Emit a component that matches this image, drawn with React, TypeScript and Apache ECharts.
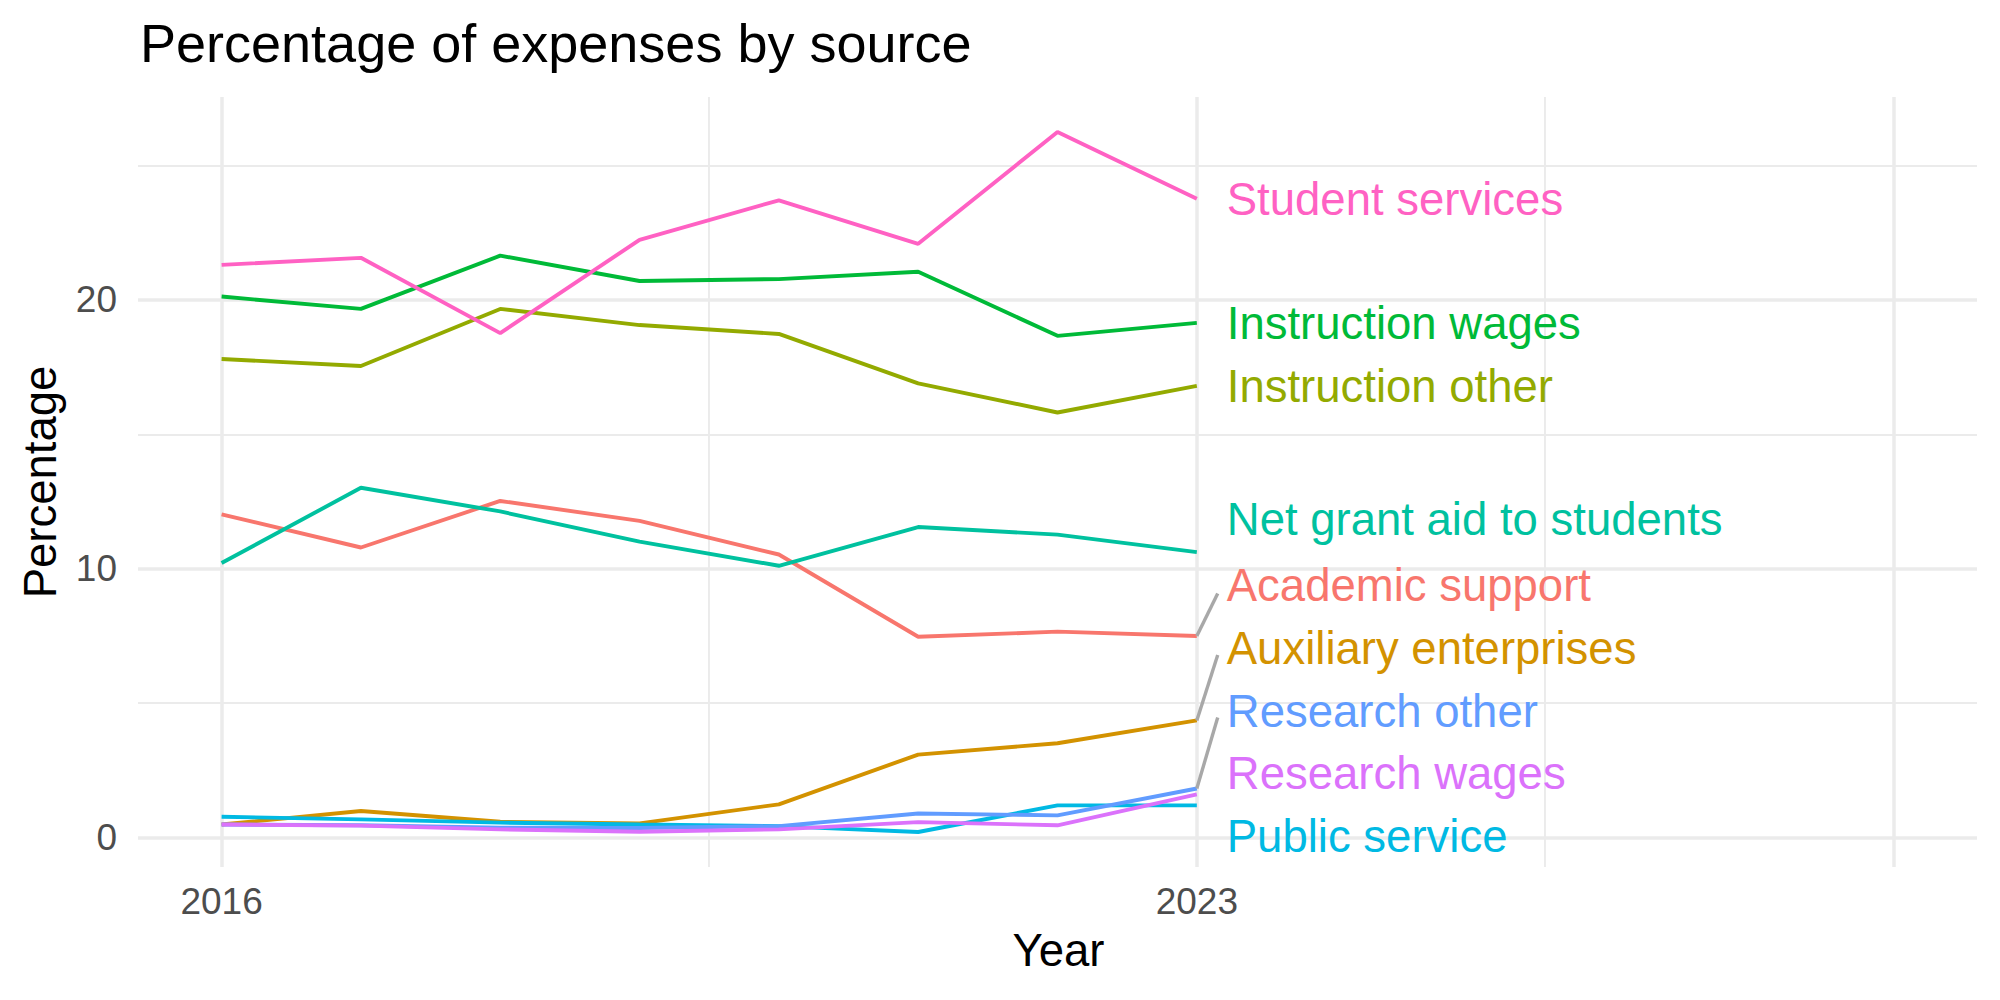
import React, { useEffect, useRef } from "react";
import * as echarts from "echarts";

const years = [2016, 2017, 2018, 2019, 2020, 2021, 2022, 2023];

const seriesNames = [
  "Academic support",
  "Auxiliary enterprises",
  "Instruction other",
  "Instruction wages",
  "Net grant aid to students",
  "Public service",
  "Research other",
  "Research wages",
  "Student services",
];

const academicSupport = [12.02, 10.79, 12.52, 11.78, 10.53, 7.47, 7.66, 7.5];
const auxiliaryEnterprises = [0.49, 0.99, 0.59, 0.53, 1.24, 3.09, 3.51, 4.36];
const instructionOther = [17.8, 17.54, 19.66, 19.06, 18.73, 16.89, 15.81, 16.8];
const instructionWages = [20.12, 19.66, 21.64, 20.7, 20.77, 21.04, 18.66, 19.14];
const netGrantAid = [10.21, 13.01, 12.13, 11.01, 10.11, 11.55, 11.27, 10.62];
const publicService = [0.78, 0.68, 0.56, 0.49, 0.43, 0.21, 1.2, 1.2];
const researchOther = [0.49, 0.46, 0.37, 0.36, 0.43, 0.9, 0.83, 1.83];
const researchWages = [0.49, 0.45, 0.31, 0.22, 0.31, 0.58, 0.46, 1.61];
const studentServices = [21.3, 21.56, 18.76, 22.23, 23.7, 22.08, 26.24, 23.76];

const seriesValues = [
  academicSupport,
  auxiliaryEnterprises,
  instructionOther,
  instructionWages,
  netGrantAid,
  publicService,
  researchOther,
  researchWages,
  studentServices,
];

// repelled label heights (data units) at the right end
const labelValues = [9.37, 7.02, 16.76, 19.12, 11.82, 0.04, 4.71, 2.37, 23.74];
// connector segment end heights (only for repelled labels)
const segmentEnds: (number | null)[] = [9.08, 6.79, null, null, null, null, 4.47, null, null];

const colors = [
  "#F8766D",
  "#D39200",
  "#93AA00",
  "#00BA38",
  "#00C19F",
  "#00B9E3",
  "#619CFF",
  "#DB72FB",
  "#FF61C3",
];

const xMajor = [2016, 2023, 2028];
const xMinor = [2019.5, 2025.5];
const yMajor = [0, 10, 20];
const yMinor = [5, 15, 25];
const xTickLabels = [2016, 2023];
const yTickLabels = [0, 10, 20];

const FONT = "'Liberation Sans', Arial, Helvetica, sans-serif";

export default function App() {
  const ref = useRef<HTMLDivElement>(null);

  useEffect(() => {
    if (!ref.current) return;
    const chart = echarts.init(ref.current, null, { renderer: "svg" });

    const lastYear = years[years.length - 1];

    const gridSeries: any = {
      type: "line",
      data: [],
      z: 0,
      silent: true,
      markLine: {
        silent: true,
        symbol: ["none", "none"],
        label: { show: false },
        animation: false,
        z: 0,
        data: [
          ...xMinor.map((v) => ({ xAxis: v, lineStyle: { color: "#EBEBEB", width: 1.9, type: "solid" } })),
          ...yMinor.map((v) => ({ yAxis: v, lineStyle: { color: "#EBEBEB", width: 1.9, type: "solid" } })),
          ...xMajor.map((v) => ({ xAxis: v, lineStyle: { color: "#EBEBEB", width: 3.5, type: "solid" } })),
          ...yMajor.map((v) => ({ yAxis: v, lineStyle: { color: "#EBEBEB", width: 3.5, type: "solid" } })),
        ],
      },
    };

    const lineSeries = seriesNames.map((name, i) => ({
      type: "line",
      name,
      z: 2,
      symbol: "none",
      showSymbol: false,
      data: years.map((y, j) => [y, seriesValues[i][j]]),
      lineStyle: { color: colors[i], width: 3.9, opacity: 1 },
      itemStyle: { color: colors[i] },
      emphasis: { disabled: true },
    }));

    const segmentSeries = seriesNames
      .map((name, i) => {
        const end = segmentEnds[i];
        if (end === null) return null;
        return {
          type: "line",
          name: name + " segment",
          z: 3,
          symbol: "none",
          showSymbol: false,
          data: [
            [lastYear, seriesValues[i][seriesValues[i].length - 1]],
            [lastYear + 0.15, end],
          ],
          lineStyle: { color: "#A8A8A8", width: 3.4 },
          emphasis: { disabled: true },
        };
      })
      .filter(Boolean);

    const labelSeries = {
      type: "scatter",
      z: 4,
      symbolSize: 0,
      silent: true,
      itemStyle: { color: "rgba(0,0,0,0)", opacity: 1 },
      emphasis: { disabled: true },
      data: seriesNames.map((name, i) => ({
        value: [lastYear + 0.215, labelValues[i]],
        label: {
          show: true,
          position: "right",
          distance: 0,
          formatter: name,
          color: colors[i],
          opacity: 1,
          fontSize: 45.5,
          fontFamily: FONT,
        },
      })),
    };

    chart.setOption({
      animation: false,
      backgroundColor: "#FFFFFF",
      title: {
        text: "Percentage of expenses by source",
        left: 140,
        top: 16,
        padding: 0,
        textStyle: {
          fontSize: 54,
          lineHeight: 54,
          fontWeight: "normal",
          color: "#000000",
          fontFamily: FONT,
        },
      },
      grid: {
        left: 138,
        right: 23,
        top: 97,
        bottom: 133,
        containLabel: false,
        outerBoundsMode: "none",
      },
      xAxis: {
        type: "value",
        min: 2015.4,
        max: 2028.6,
        axisLine: { show: false },
        axisTick: { show: false },
        splitLine: { show: false },
        axisLabel: {
          customValues: xTickLabels,
          fontSize: 37,
          lineHeight: 37,
          color: "#4D4D4D",
          fontFamily: FONT,
          margin: 16,
          formatter: (v: number) => String(v),
        },
      },
      yAxis: {
        type: "value",
        min: -1.09,
        max: 27.54,
        axisLine: { show: false },
        axisTick: { show: false },
        splitLine: { show: false },
        axisLabel: {
          customValues: yTickLabels,
          fontSize: 37,
          color: "#4D4D4D",
          fontFamily: FONT,
          margin: 21,
          formatter: (v: number) => String(v),
        },
      },
      graphic: [
        {
          type: "text",
          x: 1058.5,
          y: 950,
          style: {
            text: "Year",
            fontSize: 45.5,
            fontFamily: FONT,
            fill: "#000000",
            textAlign: "center",
            textVerticalAlign: "middle",
          },
        },
        {
          type: "text",
          x: 40,
          y: 482,
          rotation: Math.PI / 2,
          style: {
            text: "Percentage",
            fontSize: 45.5,
            fontFamily: FONT,
            fill: "#000000",
            textAlign: "center",
            textVerticalAlign: "middle",
          },
        },
      ],
      series: [gridSeries, ...lineSeries, ...segmentSeries, labelSeries],
    });

    return () => {
      chart.dispose();
    };
  }, []);

  return (
    <div
      ref={ref}
      style={{ position: "absolute", left: 0, top: 0, width: 2000, height: 1000 }}
    />
  );
}
